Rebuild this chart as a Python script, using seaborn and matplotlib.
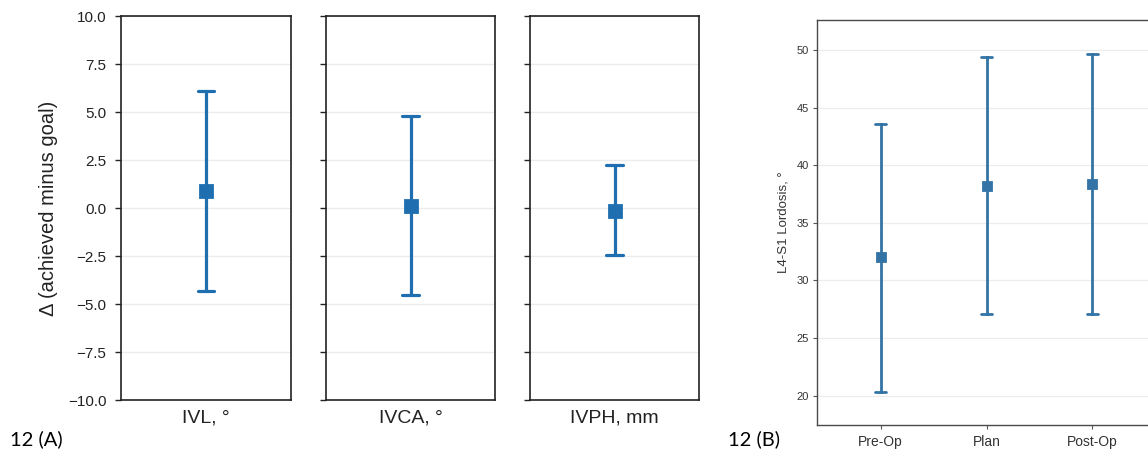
import matplotlib
matplotlib.use("Agg")
import matplotlib.pyplot as plt
import seaborn as sns
import pandas as pd

# Panel A: change (achieved minus goal) per measure — low / centre / high
measures = ["IVL, °", "IVCA, °", "IVPH, mm"]
delta_low = [-4.3, -4.55, -2.45]
delta_mid = [0.9, 0.1, -0.15]
delta_high = [6.1, 4.8, 2.22]

# Panel B: L4-S1 lordosis per stage — low / centre / high
stages = ["Pre-Op", "Plan", "Post-Op"]
lord_low = [20.35, 27.05, 27.1]
lord_mid = [32.0, 38.2, 38.35]
lord_high = [43.55, 49.35, 49.65]

a_ticks = [-10.0, -7.5, -5.0, -2.5, 0.0, 2.5, 5.0, 7.5, 10.0]
b_ticks = [20, 25, 30, 35, 40, 45, 50]


def long_form(cats, lo, mid, hi):
    rows = []
    for c, l, m, h in zip(cats, lo, mid, hi):
        for v in (l, m, h):
            rows.append({"cat": c, "val": v})
    return pd.DataFrame(rows)


sns.set_theme(style="white")
plt.rcParams["font.family"] = ["Liberation Sans", "DejaVu Sans"]

W, H = 1148, 451
fig = plt.figure(figsize=(W / 100, H / 100), dpi=100)


def box(l, r, t, b):
    return [l / W, 1 - b / H, (r - l) / W, (b - t) / H]


blue_a = "#1f6fb0"
blue_b = "#3473a5"
grid_c = "#ececec"

# ---- Panel A: three small panels sharing the y range
a_boxes = [(121, 291), (326, 495), (530, 699)]
for i, (m, (l, r)) in enumerate(zip(measures, a_boxes)):
    ax = fig.add_axes(box(l, r, 16, 400))
    df = long_form([m], [delta_low[i]], [delta_mid[i]], [delta_high[i]])
    sns.pointplot(data=df, x="cat", y="val", estimator="median",
                  errorbar=("pi", 100), marker="s", markersize=8,
                  linestyle="none", capsize=0.095, color=blue_a,
                  err_kws={"linewidth": 2.3}, ax=ax)
    ax.set_ylim(-10, 10)
    ax.set_xlim(-0.5, 0.5)
    ax.set_yticks(a_ticks)
    ax.yaxis.grid(True, color=grid_c, linewidth=1.0)
    ax.set_axisbelow(True)
    ax.tick_params(axis="y", left=True, length=4.5, width=1.0, color="#222222",
                   labelsize=11, labelcolor="#222222", pad=6)
    ax.tick_params(axis="x", bottom=False, length=0, labelsize=14,
                   labelcolor="#222222", pad=7)
    ax.set_xlabel("")
    if i == 0:
        ax.set_yticklabels([f"{t:.1f}".replace("-", "\u2212") for t in a_ticks])
        ax.set_ylabel("\u0394 (achieved minus goal)", fontsize=14.5,
                      color="#222222", labelpad=7)
    else:
        ax.set_yticklabels([])
        ax.set_ylabel("")
    for s in ax.spines.values():
        s.set_color("#222222")
        s.set_linewidth(1.2)

# ---- Panel B: lordosis by stage (right edge runs past the canvas)
axb = fig.add_axes(box(817, 1156, 20, 425))
dfb = long_form(stages, lord_low, lord_mid, lord_high)
sns.pointplot(data=dfb, x="cat", y="val", estimator="median",
              errorbar=("pi", 100), marker="s", markersize=6,
              linestyle="none", capsize=0.11, color=blue_b,
              err_kws={"linewidth": 2.0}, ax=axb)
axb.set_xlim(-0.6, 2.6)
axb.set_ylim(17.45, 52.6)
axb.set_yticks(b_ticks)
axb.yaxis.grid(True, color=grid_c, linewidth=0.9)
axb.set_axisbelow(True)
axb.tick_params(axis="y", left=True, length=3, width=0.8, color="#555555",
                labelsize=8, labelcolor="#333333", pad=3)
axb.tick_params(axis="x", bottom=True, length=3, width=0.8, color="#555555",
                labelsize=10, labelcolor="#333333", pad=4)
axb.set_xlabel("")
axb.set_ylabel("L4-S1 Lordosis, \u00b0", fontsize=9.5, color="#333333", labelpad=5)
for s in axb.spines.values():
    s.set_color("#4a4a4a")
    s.set_linewidth(1.0)

# Panel tags
fig.text(10 / W, 1 - 439 / H, "12 (A)", fontsize=14.5, family=["Lato", "DejaVu Sans"],
         ha="left", va="center", color="black")
fig.text(728 / W, 1 - 439 / H, "12 (B)", fontsize=14.5, family=["Lato", "DejaVu Sans"],
         ha="left", va="center", color="black")

fig.savefig("out.png", dpi=100, facecolor="white")
